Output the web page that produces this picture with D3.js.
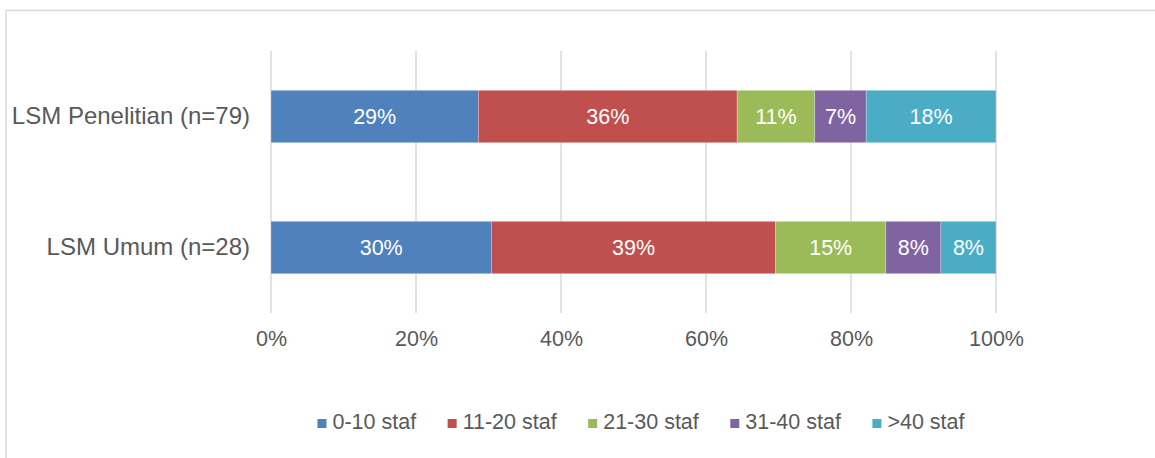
<!DOCTYPE html>
<html>
<head>
<meta charset="utf-8">
<script src="https://cdn.jsdelivr.net/npm/d3@7"></script>
<style>
  html, body { margin: 0; padding: 0; background: #fff; }
  svg { display: block; }
  text { font-family: Arial, "Liberation Sans", sans-serif; }
</style>
</head>
<body>
<svg id="chart" width="1155" height="458"></svg>
<script>
// ---- data ----
const categories = ["LSM Penelitian (n=79)", "LSM Umum (n=28)"];
const seriesNames = ["0-10 staf", "11-20 staf", "21-30 staf", "31-40 staf", ">40 staf"];
const seriesColors = ["#4f81bd", "#c0504d", "#9bbb59", "#8064a2", "#4bacc6"];
const valuesPenelitian = [28.6, 35.7, 10.7, 7.1, 17.9];
const valuesUmum = [30.4, 39.2, 15.2, 7.6, 7.6];
const tickValues = [0, 20, 40, 60, 80, 100];

const rows = [
  { cat: categories[0], vals: valuesPenelitian },
  { cat: categories[1], vals: valuesUmum }
];

// ---- layout ----
const svg = d3.select("#chart");
const textColor = "#595959";
const gridColor = "#d9d9d9";

// outer border of chart area
svg.append("rect")
  .attr("x", 6).attr("y", 10.5)
  .attr("width", 1300).attr("height", 600)
  .attr("fill", "none").attr("stroke", gridColor).attr("stroke-width", 1.5);

const x = d3.scaleLinear().domain([0, 100]).range([271, 996]);
const y = d3.scaleBand().domain(categories).range([51, 313])
  .paddingInner(0.6).paddingOuter(0.3);

// gridlines
svg.append("g").selectAll("line")
  .data(tickValues).join("line")
  .attr("x1", d => x(d)).attr("x2", d => x(d))
  .attr("y1", 51).attr("y2", 313)
  .attr("stroke", gridColor).attr("stroke-width", 1.5);

// x axis labels using d3 axis
const xAxis = d3.axisBottom(x).tickValues(tickValues).tickFormat(d => d + "%").tickSize(0).tickPadding(0);
const gx = svg.append("g").attr("transform", "translate(0,346)").call(xAxis);
gx.select(".domain").remove();
gx.selectAll("text")
  .attr("dy", null).attr("y", 0)
  .attr("fill", textColor)
  .style("font-size", "21.5px")
  .style("font-family", "Arial, 'Liberation Sans', sans-serif");

// y axis category labels
const yAxis = d3.axisLeft(y).tickSize(0).tickPadding(0);
const gy = svg.append("g").attr("transform", "translate(250,0)").call(yAxis);
gy.select(".domain").remove();
gy.selectAll("text")
  .attr("dy", "0.32em")
  .attr("fill", textColor)
  .style("font-size", "24px")
  .style("font-family", "Arial, 'Liberation Sans', sans-serif");

// stacked segments
const segs = [];
rows.forEach(r => {
  let acc = 0;
  r.vals.forEach((v, i) => {
    segs.push({ cat: r.cat, i, v, x0: acc, x1: acc + v });
    acc += v;
  });
});

svg.append("g").selectAll("rect")
  .data(segs).join("rect")
  .attr("x", d => x(d.x0))
  .attr("y", d => y(d.cat))
  .attr("width", d => x(d.x1) - x(d.x0))
  .attr("height", y.bandwidth())
  .attr("fill", d => seriesColors[d.i])
  .attr("stroke", "rgba(255,255,255,0.35)")
  .attr("stroke-width", 0.75);

svg.append("g").selectAll("text")
  .data(segs).join("text")
  .attr("x", d => (x(d.x0) + x(d.x1)) / 2)
  .attr("y", d => y(d.cat) + y.bandwidth() / 2)
  .attr("dy", "0.36em")
  .attr("text-anchor", "middle")
  .attr("fill", "#fff")
  .style("font-size", "21.5px")
  .text(d => Math.round(d.v) + "%");

// legend
const legend = svg.append("g");
const items = legend.selectAll("g").data(seriesNames).join("g");
items.append("rect")
  .attr("width", 9).attr("height", 9)
  .attr("y", -10)
  .attr("fill", (d, i) => seriesColors[i]);
items.append("text")
  .attr("x", 15).attr("y", 0)
  .attr("fill", textColor)
  .style("font-size", "21.5px")
  .text(d => d);
let cx = 0;
const gap = 31.5;
items.each(function () {
  const w = d3.select(this).select("text").node().getComputedTextLength();
  d3.select(this).attr("transform", `translate(${cx},429)`);
  cx += 15 + w + gap;
});
const total = cx - gap;
legend.attr("transform", `translate(${(318 + 964) / 2 - total / 2},0)`);
</script>
</body>
</html>
